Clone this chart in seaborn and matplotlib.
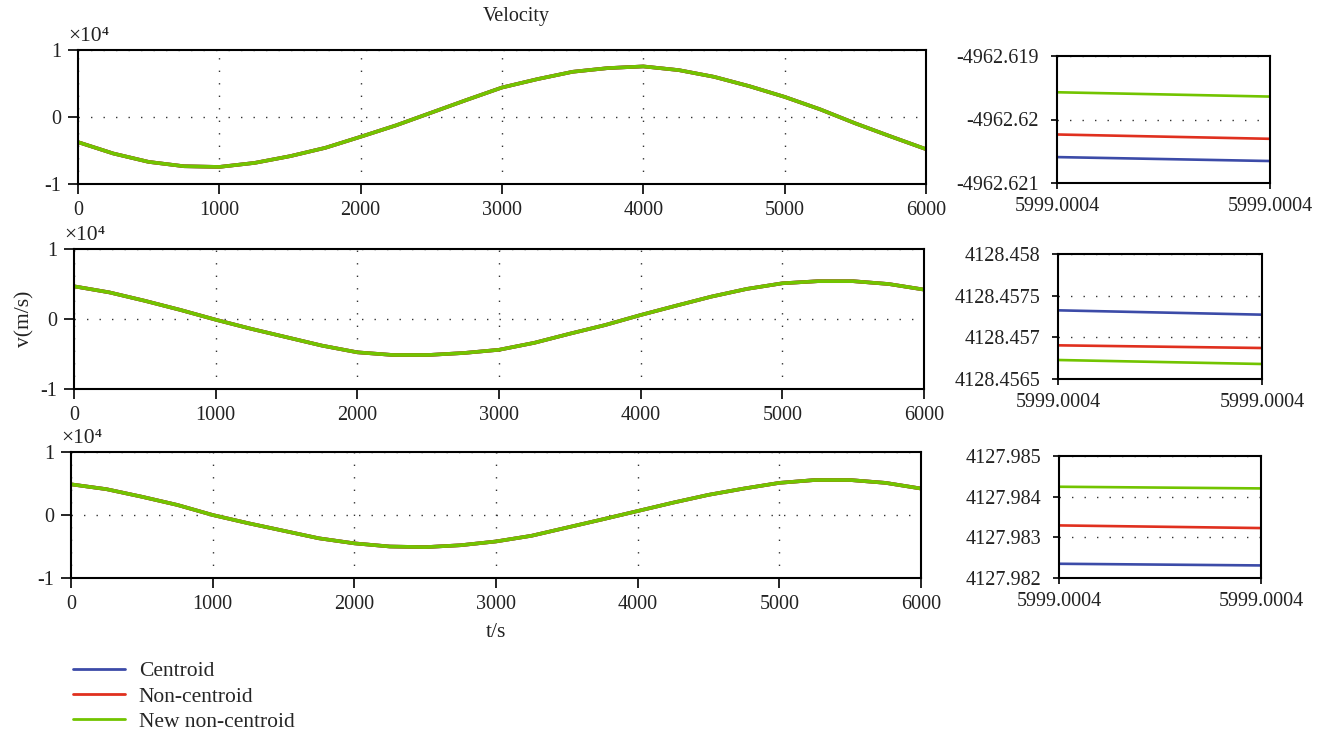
import numpy as np
import pandas as pd
import matplotlib
matplotlib.use("Agg")
import matplotlib.pyplot as plt
import seaborn as sns

# time axis of the main panels (s)
t = [0, 250, 500, 750, 1000, 1250, 1500, 1750, 2000, 2250, 2500, 2750, 3000,
     3250, 3500, 3750, 4000, 4250, 4500, 4750, 5000, 5250, 5500, 5750, 6000]

# velocity components in units of 1e4 m/s (the three models overlap at this scale)
vx = [-0.375, -0.545, -0.67, -0.735, -0.745, -0.685, -0.585, -0.46, -0.295, -0.125,
      0.065, 0.255, 0.44, 0.565, 0.675, 0.73, 0.755, 0.70, 0.60, 0.46, 0.30, 0.115,
      -0.095, -0.29, -0.48]
vy = [0.467, 0.38, 0.26, 0.13, -0.01, -0.14, -0.26, -0.38, -0.476, -0.514, -0.514,
      -0.486, -0.44, -0.34, -0.21, -0.086, 0.057, 0.19, 0.32, 0.43, 0.51, 0.54, 0.54,
      0.50, 0.42]
vz = [0.487, 0.41, 0.29, 0.16, 0.0, -0.13, -0.25, -0.37, -0.45, -0.50, -0.51, -0.48,
      -0.42, -0.33, -0.20, -0.07, 0.063, 0.196, 0.32, 0.42, 0.51, 0.555, 0.555, 0.51,
      0.42]

models = ["Centroid", "Non-centroid", "New non-centroid"]
colors = ["#3c4ba8", "#e0301e", "#72c400"]

# zoomed end of the run (right panels)
t_zoom = [5999.00036, 5999.00044]
zx = {"Centroid": [-4962.620592, -4962.620654],
      "Non-centroid": [-4962.620236, -4962.620304],
      "New non-centroid": [-4962.619571, -4962.619639]}
zy = {"Centroid": [4128.457324, 4128.457272],
      "Non-centroid": [4128.456904, 4128.456872],
      "New non-centroid": [4128.456728, 4128.456680]}
zz = {"Centroid": [4127.982350, 4127.982309],
      "Non-centroid": [4127.983293, 4127.983228],
      "New non-centroid": [4127.984244, 4127.984203]}

zoom_ylim = [(-4962.621, -4962.619), (4128.4565, 4128.458), (4127.982, 4127.985)]
zoom_yticks = [[-4962.621, -4962.62, -4962.619],
               [4128.4565, 4128.457, 4128.4575, 4128.458],
               [4127.982, 4127.983, 4127.984, 4127.985]]
zoom_ylabels = [["-4962.621", "-4962.62", "-4962.619"],
                ["4128.4565", "4128.457", "4128.4575", "4128.458"],
                ["4127.982", "4127.983", "4127.984", "4127.985"]]

sns.set_style("ticks")
plt.rcParams["font.family"] = ["Liberation Serif", "DejaVu Serif"]
plt.rcParams["font.size"] = 14
plt.rcParams["axes.unicode_minus"] = False

W, H = 1335, 735
fig = plt.figure(figsize=(W / 100, H / 100), dpi=100)


def fig_axes(l, r, top, bottom):
    return fig.add_axes([l / W, 1 - bottom / H, (r - l) / W, (bottom - top) / H])


main_boxes = [(78, 926, 50, 184), (74, 924, 249, 389), (71, 921, 452, 578)]
zoom_boxes = [(1057, 1270, 56, 183), (1058, 1262, 254, 379), (1059, 1261, 456, 578)]

palette = dict(zip(models, colors))
grid_style = dict(linestyle=(0, (1, 8)), color="#333333", linewidth=1.0)


def style_axes(ax, tick_len, pad):
    for s in ax.spines.values():
        s.set_color("black")
        s.set_linewidth(1.5)
    ax.tick_params(direction="out", length=tick_len, width=1.2, color="black",
                   labelsize=14.5, labelcolor="#222222", pad=pad)


for i, v in enumerate([vx, vy, vz]):
    ax = fig_axes(*main_boxes[i])
    df = pd.DataFrame({"t": t * 3, "v": v * 3,
                       "model": [m for m in models for _ in t]})
    sns.lineplot(data=df, x="t", y="v", hue="model", palette=palette,
                 hue_order=models, linewidth=2.6, legend=False, ax=ax)
    ax.set_xlim(0, 6000)
    ax.set_ylim(-1, 1)
    ax.set_xticks(range(0, 6001, 1000))
    ax.set_yticks([-1, 0, 1])
    ax.set_xlabel("")
    ax.set_ylabel("")
    ax.grid(True, **grid_style)
    style_axes(ax, 7, 5)
    ax.text(-0.012, 1.03, "×10⁴", transform=ax.transAxes, fontsize=15.5,
            ha="left", va="bottom", color="#222222")
    if i == 2:
        ax.set_xlabel("t/s", fontsize=15.5, color="#222222", labelpad=7)
    if i == 1:
        ax.set_ylabel("v(m/s)", fontsize=15.5, color="#222222", labelpad=4)

handles, labels = None, None
for i, z in enumerate([zx, zy, zz]):
    ax = fig_axes(*zoom_boxes[i])
    df = pd.DataFrame({"t": t_zoom * 3,
                       "v": sum((z[m] for m in models), []),
                       "model": [m for m in models for _ in t_zoom]})
    sns.lineplot(data=df, x="t", y="v", hue="model", palette=palette,
                 hue_order=models, linewidth=1.9, legend=(i == 0), ax=ax)
    if i == 0:
        handles, labels = ax.get_legend_handles_labels()
        ax.get_legend().remove()
    ax.set_xlim(t_zoom)
    ax.set_ylim(zoom_ylim[i])
    ax.set_xticks(t_zoom)
    ax.set_xticklabels(["%.4f" % x for x in t_zoom])
    ax.set_yticks(zoom_yticks[i])
    ax.set_yticklabels(zoom_ylabels[i])
    ax.set_xlabel("")
    ax.set_ylabel("")
    ax.grid(True, axis="y", **grid_style)
    style_axes(ax, 4, 6)
    ax.tick_params(axis="y", pad=9)

fig.text(516 / W, 1 - 17 / H, "Velocity", ha="center", va="center",
         fontsize=14.5, color="#222222")

fig.legend(handles, labels, loc="upper left", bbox_to_anchor=(73 / W, 1 - 661 / H),
           frameon=False, borderpad=0, borderaxespad=0, handlelength=2.4,
           handletextpad=0.65, labelspacing=0.25, fontsize=15.5)
for line in fig.legends[0].get_lines():
    line.set_linewidth(2)

fig.savefig("out.png", dpi=100)
